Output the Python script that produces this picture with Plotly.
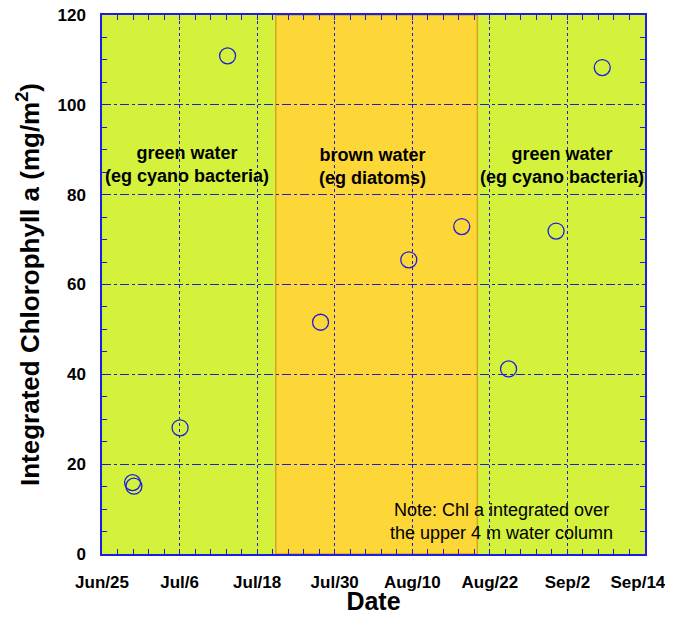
import plotly.graph_objects as go

# Days since Jun 25 (x axis spans 80 days)
tick_labels = ["Jun/25", "Jul/6", "Jul/18", "Jul/30", "Aug/10", "Aug/22", "Sep/2", "Sep/14\u00a0\u00a0\u00a0"]
x_days = [4.5, 4.7, 11.5, 18.5, 32.2, 45.2, 53.0, 59.9, 66.9, 73.7]
chl = [15.9, 15.1, 28.1, 110.9, 51.6, 65.5, 72.9, 41.2, 71.9, 108.3]
brown_start, brown_end = 25.6, 55.3
x_max = 80

green = "#D4F23C"
brown = "#FDD637"
blue = "#1E1EDC"

tickvals = [i * x_max / 7 for i in range(8)]

fig = go.Figure()
fig.add_trace(go.Scatter(
    x=x_days, y=chl, mode="markers",
    marker=dict(symbol="circle-open", size=16, color=blue, line=dict(width=1.3, color=blue)),
    showlegend=False, cliponaxis=False,
))

fig.add_shape(type="rect", xref="x", yref="y", x0=brown_start, x1=brown_end, y0=0, y1=120,
              fillcolor=brown, line=dict(color="#D9A520", width=1.5), layer="below")

font_b = dict(family="Liberation Sans", size=17, color="black", weight="bold")
font_a = dict(family="Liberation Sans", size=18, color="black", weight="bold")

fig.add_annotation(x=12.5, y=86.7, xref="x", yref="y", text="green water<br>(eg cyano bacteria)",
                   showarrow=False, font=font_a)
fig.add_annotation(x=39.8, y=86.2, xref="x", yref="y", text="brown water<br>(eg diatoms)",
                   showarrow=False, font=font_a)
fig.add_annotation(x=67.7, y=86.4, xref="x", yref="y", text="green water<br>(eg cyano bacteria)",
                   showarrow=False, font=font_a)
fig.add_annotation(x=58.8, y=7.3, xref="x", yref="y",
                   text="Note: Chl a integrated over<br>the upper 4 m water column",
                   showarrow=False, font=dict(family="Liberation Sans", size=18, color="black"))

fig.update_layout(
    width=657, height=607,
    margin=dict(l=94, r=20, t=7, b=61),
    paper_bgcolor="white", plot_bgcolor=green,
    xaxis=dict(
        range=[0, x_max], tickvals=tickvals, ticktext=tick_labels, automargin=False,
        tickfont=font_b, ticks="inside", ticklen=0, tickcolor=blue, ticklabeloverflow="allow",
        showline=True, linecolor=blue, linewidth=1.5, mirror="ticks",
        showgrid=True, gridcolor=blue, griddash="dot", gridwidth=1,
        zeroline=False, ticklabelstandoff=12,
        minor=dict(dtick=x_max / 35, tick0=0, ticks="inside", ticklen=5, tickcolor=blue, showgrid=False),
        title=dict(text="Date", font=dict(family="Liberation Sans", size=25, color="black", weight="bold"),
                   standoff=6),
    ),
    yaxis=dict(
        range=[0, 120], dtick=20, tick0=0, automargin=False,
        tickfont=font_b, ticks="inside", ticklen=0, tickcolor=blue, ticklabeloverflow="allow",
        showline=True, linecolor=blue, linewidth=1.5, mirror="ticks",
        showgrid=True, gridcolor=blue, griddash="dashdot", gridwidth=1,
        zeroline=False, ticklabelstandoff=11,
        minor=dict(dtick=5, tick0=0, ticks="inside", ticklen=5, tickcolor=blue, showgrid=False),
        title=dict(text="Integrated Chlorophyll a (mg/m<sup>2</sup>)",
                   font=dict(family="Liberation Sans", size=26, color="black", weight="bold"),
                   standoff=10),
    ),
)

fig.write_html("out.html")
